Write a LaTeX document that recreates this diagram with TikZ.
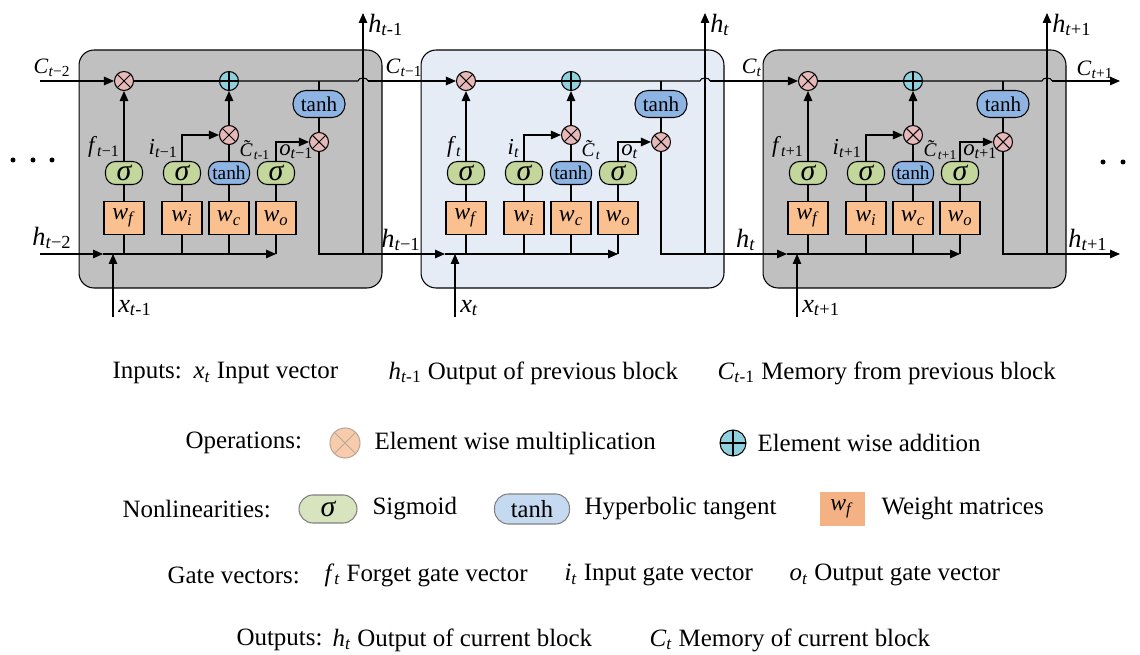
\documentclass[tikz,border=0pt]{standalone}
\usepackage{fontspec}
\setmainfont{Liberation Serif}
\usetikzlibrary{arrows.meta,positioning,calc}

\definecolor{cellgray}{HTML}{C0C0C0}
\definecolor{cellblue}{HTML}{E6ECF6}
\definecolor{mulpink}{HTML}{E6B9B8}
\definecolor{addcyan}{HTML}{8ED0DE}
\definecolor{siggreen}{HTML}{C3D69B}
\definecolor{tanhblue}{HTML}{8DB4E2}
\definecolor{wtorange}{HTML}{FAC090}
\definecolor{keypeach}{HTML}{F8CBAD}
\definecolor{keyedge}{HTML}{B8A898}
\definecolor{keygreen}{HTML}{D7E4BD}
\definecolor{keyblue}{HTML}{C5D9F1}
\definecolor{keyorange}{HTML}{F4B183}

\newcommand{\vsb}[2]{\textit{#1}\textsubscript{#2}}
\newcommand{\tildeC}{\textit{C}\kern-0.5em\raisebox{0.2em}{\textit{\char"02DC}}\kern0.17em}

\tikzset{
  cell/.style={draw,rounded corners=0.3cm,minimum width=6.06cm,minimum height=4.76cm},
  mulop/.style={circle,draw,fill=mulpink,minimum size=0.38cm,inner sep=0pt,
    path picture={\draw (path picture bounding box.north west) -- (path picture bounding box.south east)
      (path picture bounding box.north east) -- (path picture bounding box.south west);}},
  addop/.style={circle,draw,fill=addcyan,minimum size=0.38cm,inner sep=0pt,
    path picture={\draw (path picture bounding box.north) -- (path picture bounding box.south)
      (path picture bounding box.east) -- (path picture bounding box.west);}},
  sigbox/.style={draw,fill=siggreen,rounded corners=0.2cm,minimum width=0.74cm,minimum height=0.46cm,
    inner sep=0pt,font=\fontsize{17}{17}\selectfont\itshape},
  tanhbox/.style={draw,fill=tanhblue,rounded corners=0.2cm,minimum width=0.82cm,minimum height=0.46cm,
    inner sep=0pt,font=\fontsize{11}{11}\selectfont},
  bigtanh/.style={tanhbox,rounded corners=0.26cm,minimum width=1.04cm,minimum height=0.54cm,
    font=\fontsize{12}{12}\selectfont},
  wbox/.style={draw,fill=wtorange,minimum width=0.8cm,minimum height=0.66cm,inner sep=0pt,
    font=\fontsize{13.5}{13.5}\selectfont},
  glbl/.style={inner sep=1pt,font=\fontsize{13}{13}\selectfont},
  tlbl/.style={inner sep=0pt,font=\fontsize{11}{11}\selectfont},
  hlbl/.style={inner sep=1pt,font=\fontsize{15}{15}\selectfont},
  clbl/.style={inner sep=1pt,font=\fontsize{12.5}{12.5}\selectfont},
  lgd/.style={inner sep=0pt,font=\fontsize{14.2}{16}\selectfont},
  keymul/.style={mulop,color=keyedge,fill=keypeach,minimum size=0.6cm},
  keyadd/.style={addop,minimum size=0.52cm},
  keysig/.style={sigbox,draw=gray,fill=keygreen,rounded corners=0.28cm,minimum width=1.16cm,minimum height=0.56cm},
  keytanh/.style={tanhbox,draw=gray,fill=keyblue,rounded corners=0.28cm,minimum width=1.5cm,minimum height=0.6cm,
    font=\fontsize{14}{14}\selectfont},
  keyw/.style={wbox,draw=none,fill=keyorange,minimum width=0.9cm,minimum height=0.7cm},
}

\begin{document}
\begin{tikzpicture}[x=0.02cm,y=-0.02cm,>={Triangle[length=2mm,width=1.7mm]},line width=0.6pt]
  \useasboundingbox (0,0) rectangle (1140,655);

  % three LSTM cells
  \foreach \i/\bx/\bg/\s/\hs in {1/79/cellgray/{\textit{t}−1}/{\textit{t}-1},
                                 2/421/cellblue/{\textit{t}}/{\textit{t}},
                                 3/763/cellgray/{\textit{t}+1}/{\textit{t}+1}} {
    \node[cell,fill=\bg] (cell\i) at (\bx+151.5,169) {};
    \node[mulop] (fm\i) at (\bx+45,81) {};
    \node[addop] (ad\i) at (\bx+150,81) {};
    \node[mulop] (im\i) at (\bx+150,135) {};
    \node[mulop] (om\i) at (\bx+240,142) {};
    \node[sigbox] (sf\i) at (\bx+45,173) {σ};
    \node[sigbox] (si\i) at (\bx+103,173) {σ};
    \node[tanhbox] (ct\i) at (\bx+150,173) {tanh};
    \node[sigbox] (so\i) at (\bx+197,173) {σ};
    \node[bigtanh] (th\i) at (\bx+240,104) {tanh};
    \node[wbox] (wf\i) at (\bx+45,218) {\vsb{w}{\textit{f}}};
    \node[wbox] (wi\i) at (\bx+103,218) {\vsb{w}{\textit{i}}};
    \node[wbox] (wc\i) at (\bx+150,218) {\vsb{w}{\textit{c}}};
    \node[wbox] (wo\i) at (\bx+197,218) {\vsb{w}{\textit{o}}};
    \coordinate (ha\i) at (\bx+24,254);
    \coordinate (xj\i) at (\bx+34,254);
    \coordinate (xin\i) at (\bx+34,317);
    \coordinate (hwo\i) at (\bx+197,254);
    \coordinate (ctap\i) at (\bx+240,81);
    \coordinate (up\i) at (\bx+284,254);
    \coordinate (top\i) at (\bx+284,13);
    \coordinate (hopl\i) at (\bx+279,81);
    \coordinate (hopr\i) at (\bx+289,81);

    \draw[->] (ha\i) -- (hwo\i);
    \draw (hwo\i) -- (wo\i);
    \draw[->] (xin\i) -- (xj\i);
    \draw (wf\i) -- (wf\i |- ha\i);
    \draw (wi\i) -- (wi\i |- ha\i);
    \draw (wc\i) -- (wc\i |- ha\i);
    \draw (wf\i) -- (sf\i);
    \draw (wi\i) -- (si\i);
    \draw (wc\i) -- (ct\i);
    \draw (wo\i) -- (so\i);
    \draw[->] (sf\i) -- (fm\i);
    \draw[->] (si\i) |- (im\i);
    \draw (ct\i) -- (im\i);
    \draw[->] (im\i) -- (ad\i);
    \draw[->] (so\i) |- (om\i);
    \draw (ctap\i) -- (th\i);
    \draw (th\i) -- (om\i);
    \draw (om\i) |- (up\i);
    \draw[->] (up\i) -- (top\i);
    \draw (fm\i) -- (ad\i);
    \draw (ad\i) -- (hopl\i) to[out=90,in=90] (hopr\i);

    \node[glbl,anchor=south east] (fl\i) at (\bx+43,160) {\vsb{f}{\s}};
    \node[glbl,anchor=south east] (il\i) at (\bx+101,160) {\vsb{i}{\s}};
    \node[tlbl,anchor=south west] (cl\i) at (\bx+160,160.5) {\tildeC\textsubscript{\hs}};
    \node[glbl,anchor=south west] (ol\i) at (\bx+198,161) {\vsb{o}{\s}};
    \node[hlbl,anchor=west] (xl\i) at (\bx+37,308) {\vsb{x}{\hs}};
    \node[hlbl,anchor=west] (tl\i) at (\bx+287,25) {\vsb{h}{\hs}};
  }

  % memory and hidden state between the cells
  \coordinate (cstart) at (40,81);
  \coordinate (hstart) at (40,254);
  \coordinate (cend) at (1120,81);
  \coordinate (hend) at (1120,254);
  \draw[->] (cstart) -- (fm1);
  \draw[->] (hopr1) -- (fm2);
  \draw[->] (hopr2) -- (fm3);
  \draw[->] (hopr3) -- (cend);
  \draw[->] (hstart) -- (ha1);
  \draw[->] (up1) -- (ha2);
  \draw[->] (up2) -- (ha3);
  \draw[->] (up3) -- (hend);

  \node[clbl] (c0) at (52,68) {\vsb{C}{\textit{t}−2}};
  \node[clbl] (c1) at (404,68) {\vsb{C}{\textit{t}−1}};
  \node[clbl] (c2) at (752,68) {\vsb{C}{\textit{t}}};
  \node[clbl] (c3) at (1095,70) {\vsb{C}{\textit{t}+1}};
  \node[hlbl] (h0) at (52,238) {\vsb{h}{\textit{t}−2}};
  \node[hlbl] (h1) at (401,240) {\vsb{h}{\textit{t}−1}};
  \node[hlbl] (h2) at (746,240) {\vsb{h}{\textit{t}}};
  \node[hlbl] (h3) at (1088,240) {\vsb{h}{\textit{t}+1}};

  \fill (13,160) circle (0.05cm) (33,160) circle (0.05cm) (52,160) circle (0.05cm);
  \fill (1103,162) circle (0.05cm) (1123,162) circle (0.05cm);

  % legend
  \node[lgd,anchor=west] (kin) at (112,373) {Inputs:};
  \node[lgd,anchor=west] (kx) at (193,373) {\vsb{x}{\textit{t}} Input vector};
  \node[lgd,anchor=west] (kh) at (388,373) {\vsb{h}{\textit{t}-1} Output of previous block};
  \node[lgd,anchor=west] (kc) at (717,373) {\vsb{C}{\textit{t}-1} Memory from previous block};

  \node[lgd,anchor=west] (kop) at (185,443) {Operations:};
  \node[keymul] (kmul) at (345,443) {};
  \node[lgd,anchor=west] (kmt) at (374,443) {Element wise multiplication};
  \node[keyadd] (kadd) at (733,443) {};
  \node[lgd,anchor=west] (kat) at (757,443) {Element wise addition};

  \node[lgd,anchor=west] (knl) at (122,509) {Nonlinearities:};
  \node[keysig] (ksig) at (328,509) {σ};
  \node[lgd,anchor=west] (kst) at (372,509) {Sigmoid};
  \node[keytanh] (ktanh) at (532,509) {tanh};
  \node[lgd,anchor=west] (ktt) at (584,509) {Hyperbolic tangent};
  \node[keyw] (kw) at (842,509) {\vsb{w}{\textit{f}}};
  \node[lgd,anchor=west] (kwt) at (881,509) {Weight matrices};

  \node[lgd,anchor=west] (kgv) at (167,575) {Gate vectors:};
  \node[lgd,anchor=west] (kf) at (324,575) {\vsb{f}{\textit{t}} Forget gate vector};
  \node[lgd,anchor=west] (ki) at (564,575) {\vsb{i}{\textit{t}} Input gate vector};
  \node[lgd,anchor=west] (ko) at (789,575) {\vsb{o}{\textit{t}} Output gate vector};

  \node[lgd,anchor=west] (kout) at (236,640) {Outputs:};
  \node[lgd,anchor=west] (kht) at (332,640) {\vsb{h}{\textit{t}} Output of current block};
  \node[lgd,anchor=west] (kct) at (649,640) {\vsb{C}{\textit{t}} Memory of current block};
\end{tikzpicture}
\end{document}
